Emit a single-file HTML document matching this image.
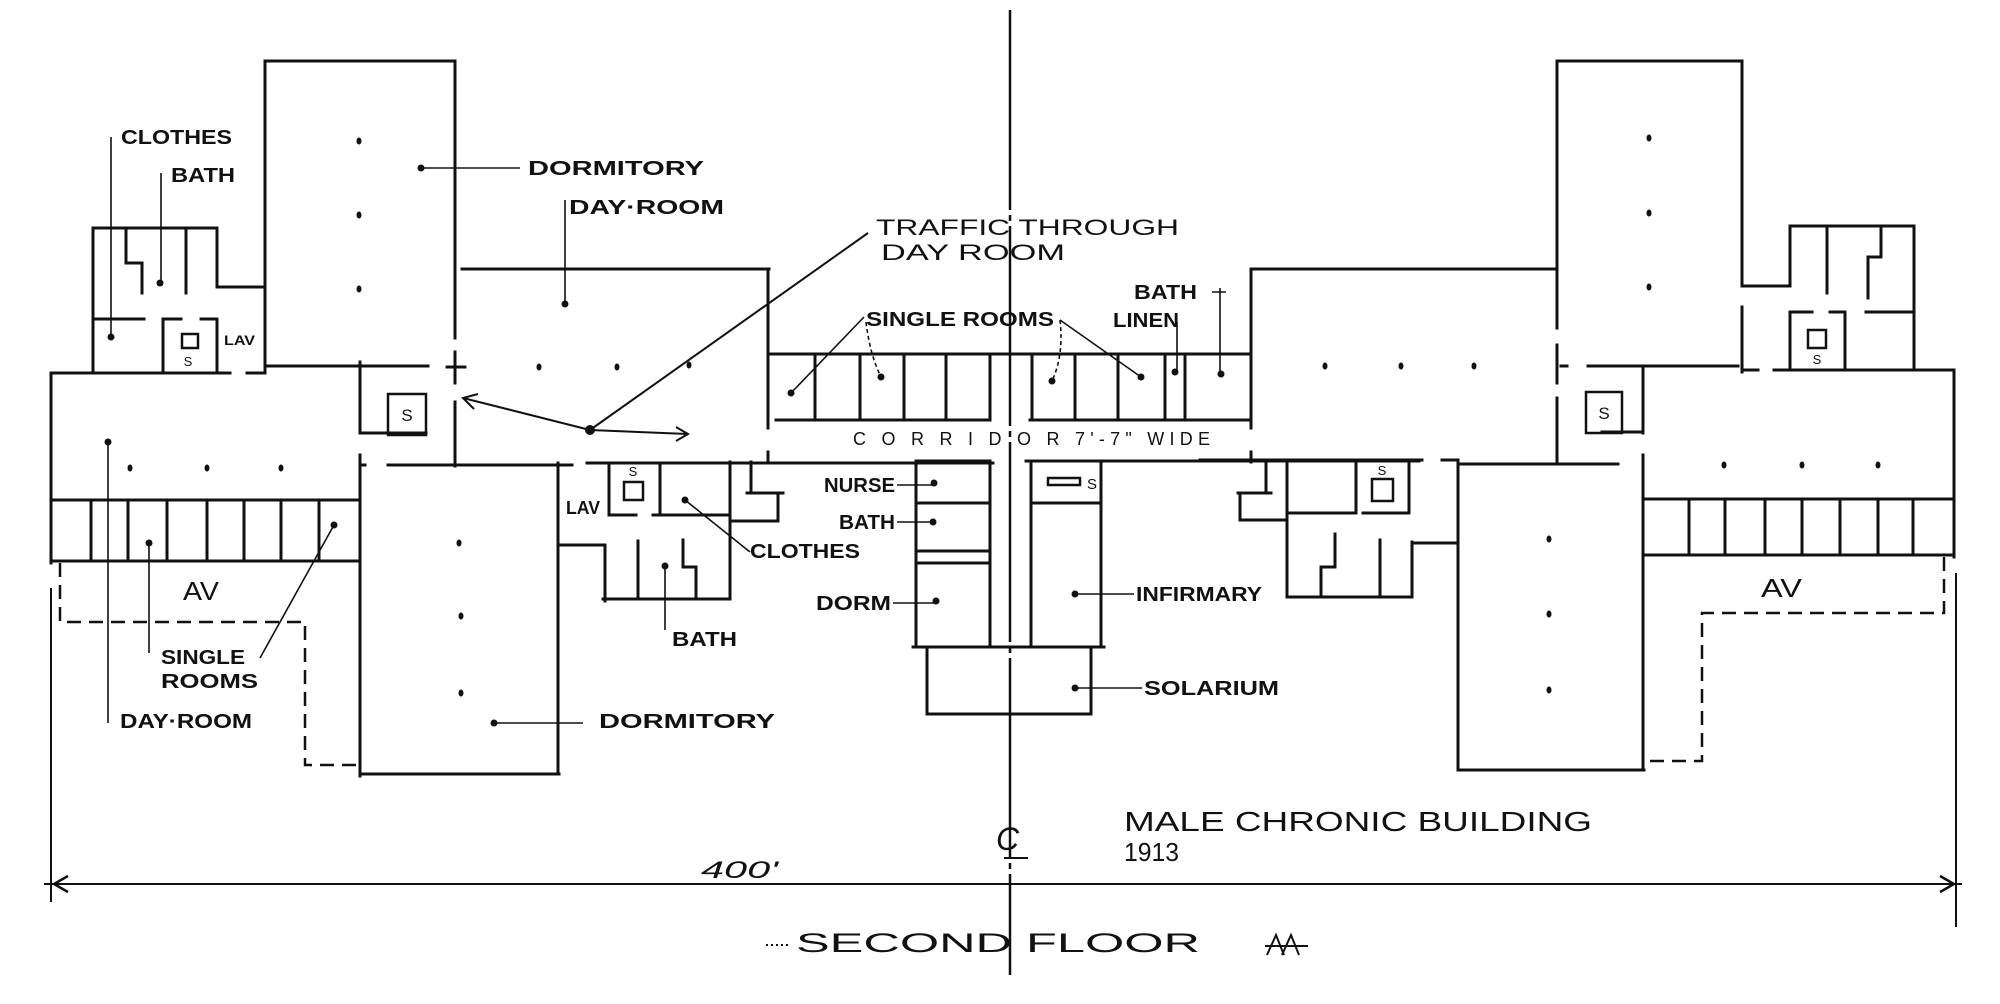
<!DOCTYPE html>
<html><head><meta charset="utf-8"><style>
html,body{margin:0;padding:0;background:#fff;}
svg{display:block;}
text{font-family:"Liberation Sans","DejaVu Sans",sans-serif;fill:#111;}
.b{font-weight:bold;}
</style></head><body>
<svg width="2000" height="1004" viewBox="0 0 2000 1004" xmlns="http://www.w3.org/2000/svg">
<rect width="2000" height="1004" fill="#fff"/>
<!-- WALLS -->
<g fill="none" stroke="#111" stroke-width="3" stroke-linecap="square">
<path d="M93 228 V373 M93 228 H217 V287 H265 M126 228 V263 H142 V293 M186 228 V293 M93 319 H144 M163 319 H181 M201 319 H217 M163 319 V372 M217 319 V372"/>
<path d="M265 61 H455 M265 61 V373 M455 61 V338 M455 352 V383 M455 402 V466 M265 366 H428 M447 367 H465 M51 373 H230 M247 373 H265"/>
<path d="M360 362 V433 H426"/>
<path d="M51 373 V563 M51 500 H357 M51 561 H357 M91 500 V561 M128 500 V561 M167 500 V561 M207 500 V561 M244 500 V561 M281 500 V561 M319 500 V561"/>
<path d="M360 455 V776 M360 465 H365 M388 465 H572 M558 463 V774 M360 774 H559"/>
<path d="M462 269 H769 M768 269 V428 M768 452 V462"/>
<path d="M587 463 H993 M1026 461 H1419 M1442 460 H1458"/>
<path d="M768 354 H1251 M776 420 H990 M1030 420 H1251 M815 354 V420 M860 354 V420 M904 354 V420 M946 354 V420 M990 354 V420 M1032 354 V420 M1075 354 V420 M1118 354 V420 M1165 354 V420 M1185 354 V420 M1251 269 V428 M1251 452 V462 M1251 269 H1557"/>
<path d="M559 545 H605 V601 M603 599 H730 M730 462 V597 M609 463 V515 H636 M660 463 V515 M653 515 H728 M638 541 V599 M683 540 V567 H696 V599 M751 462 V493 M747 493 H783 M778 493 V521 M730 521 H778"/>
<path d="M916 461 V647 M990 461 V647 M916 461 H990 M916 503 H990 M916 551 H990 M916 563 H990"/>
<path d="M1031 461 V647 M1101 461 V647 M1031 461 H1101 M1031 503 H1101"/>
<path d="M913 647 H1104 M927 647 V714 H1091 V647"/>
<path d="M1557 61 H1742 M1557 61 V328 M1557 345 V383 M1557 398 V464 M1742 61 V286 H1790 M1742 307 V372"/>
<path d="M1790 226 V286 M1790 226 H1914 V370 M1827 226 V293 M1881 228 V257 H1868 V298 M1790 312 H1812 M1830 312 H1845 M1866 312 H1914 M1790 312 V370 M1845 312 V370 M1742 370 H1758 M1774 370 H1954 M1954 370 V557"/>
<path d="M1588 366 H1738 M1561 366 H1567 M1643 368 V433 M1602 432 H1643"/>
<path d="M1643 455 V770 M1644 499 H1954 M1644 555 H1954 M1689 499 V555 M1725 499 V555 M1765 499 V555 M1802 499 V555 M1840 499 V555 M1878 499 V555 M1913 499 V555"/>
<path d="M1458 464 H1618 M1458 460 V770 M1458 770 H1644"/>
<path d="M1200 460 H1422 M1266 460 V493 M1238 493 H1271 M1240 493 V520 H1287 M1287 460 V597 H1412 V542 M1412 543 H1458 M1287 513 H1356 M1356 460 V513 M1363 513 H1409 M1409 460 V513 M1380 540 V597 M1335 534 V567 H1321 V597"/>
</g>
<g fill="none" stroke="#111" stroke-width="2.5">
<rect x="388" y="394" width="38" height="41"/>
<rect x="1586" y="392" width="36" height="41"/>
<rect x="182" y="334" width="16" height="14"/>
<rect x="624" y="482" width="19" height="18"/>
<rect x="1808" y="330" width="18" height="18"/>
<rect x="1372" y="479" width="21" height="22"/>
<rect x="1048" y="478" width="32" height="7"/>
</g>
<g fill="none" stroke="#111" stroke-width="2.5" stroke-dasharray="14 8">
<path d="M60 563 V622 H305 V765 H357"/>
<path d="M1944 557 V613 H1702 V761 H1646"/>
</g>
<path d="M1010 10 V975" stroke="#111" stroke-width="2.5" stroke-dasharray="200 5 6 5" fill="none"/>
<g fill="none" stroke="#111" stroke-width="2">
<path d="M44 884 H1962"/>
<path d="M51 588 V902 M1956 573 V927"/>
<path d="M68 876 L54 884 L68 892 M1940 876 L1954 884 L1940 892" stroke-width="2.5"/>
</g>
<g fill="none" stroke="#111" stroke-width="1.6">
<path d="M111 137 V337 M161 173 V283 M421 168 H520 M565 200 V304"/>
<path d="M590 430 L868 233" stroke-width="2"/>
<path d="M590 430 L463 398 M474 409 L463 398 L478 394 M590 430 L688 434 M676 427 L688 434 L676 441" stroke-width="2"/>
<path d="M864 317 L791 393 M1060 320 L1141 377 M1177 322 V372 M1220 288 V374 M1212 292 H1226"/>
<path d="M866 322 Q870 355 881 377 M1060 320 Q1064 355 1052 381" stroke-dasharray="4 3"/>
<path d="M897 485 H934 M897 522 H933 M893 603 H936 M1075 594 H1134 M1075 688 H1142"/>
<path d="M685 500 L750 552 M665 566 V630 M149 543 V653 M334 525 L260 658 M108 442 V723 M494 723 H583"/>
</g>
<g fill="#111">
<circle cx="111" cy="337" r="3.5"/><circle cx="160" cy="283" r="3.5"/><circle cx="421" cy="168" r="3.5"/><circle cx="565" cy="304" r="3.5"/>
<circle cx="590" cy="430" r="5"/><circle cx="108" cy="442" r="3.5"/><circle cx="149" cy="543" r="3.5"/><circle cx="334" cy="525" r="3.5"/>
<circle cx="494" cy="723" r="3.5"/><circle cx="665" cy="566" r="3.5"/><circle cx="685" cy="500" r="3.5"/>
<circle cx="791" cy="393" r="3.5"/><circle cx="881" cy="377" r="3.5"/><circle cx="1052" cy="381" r="3.5"/><circle cx="1141" cy="377" r="3.5"/><circle cx="1175" cy="372" r="3.5"/><circle cx="1221" cy="374" r="3.5"/>
<circle cx="934" cy="483" r="3.5"/><circle cx="933" cy="522" r="3.5"/><circle cx="936" cy="601" r="3.5"/><circle cx="1075" cy="594" r="3.5"/><circle cx="1075" cy="688" r="3.5"/>
<ellipse cx="359" cy="141" rx="2.5" ry="3.5"/><ellipse cx="359" cy="215" rx="2.5" ry="3.5"/><ellipse cx="359" cy="289" rx="2.5" ry="3.5"/>
<ellipse cx="539" cy="367" rx="2.5" ry="3.5"/><ellipse cx="617" cy="367" rx="2.5" ry="3.5"/><ellipse cx="689" cy="365" rx="2.5" ry="3.5"/>
<ellipse cx="130" cy="468" rx="2.5" ry="3.5"/><ellipse cx="207" cy="468" rx="2.5" ry="3.5"/><ellipse cx="281" cy="468" rx="2.5" ry="3.5"/>
<ellipse cx="459" cy="543" rx="2.5" ry="3.5"/><ellipse cx="461" cy="616" rx="2.5" ry="3.5"/><ellipse cx="461" cy="693" rx="2.5" ry="3.5"/>
<ellipse cx="1325" cy="366" rx="2.5" ry="3.5"/><ellipse cx="1401" cy="366" rx="2.5" ry="3.5"/><ellipse cx="1474" cy="366" rx="2.5" ry="3.5"/>
<ellipse cx="1649" cy="138" rx="2.5" ry="3.5"/><ellipse cx="1649" cy="213" rx="2.5" ry="3.5"/><ellipse cx="1649" cy="287" rx="2.5" ry="3.5"/>
<ellipse cx="1724" cy="465" rx="2.5" ry="3.5"/><ellipse cx="1802" cy="465" rx="2.5" ry="3.5"/><ellipse cx="1878" cy="465" rx="2.5" ry="3.5"/>
<ellipse cx="1549" cy="539" rx="2.5" ry="3.5"/><ellipse cx="1549" cy="614" rx="2.5" ry="3.5"/><ellipse cx="1549" cy="690" rx="2.5" ry="3.5"/>
</g>
<g font-size="17" text-anchor="middle">
<text x="407" y="421">S</text>
<text x="1604" y="419">S</text>
<text x="188" y="366" font-size="13">S</text>
<text x="633" y="476" font-size="13">S</text>
<text x="1817" y="364" font-size="13">S</text>
<text x="1382" y="475" font-size="13">S</text>
<text x="1092" y="489" font-size="15">S</text>
</g>
<g font-size="20" class="b">
<text x="121" y="144" textLength="111" lengthAdjust="spacingAndGlyphs">CLOTHES</text>
<text x="171" y="182" textLength="64" lengthAdjust="spacingAndGlyphs">BATH</text>
<text x="224" y="345" font-size="14" textLength="31" lengthAdjust="spacingAndGlyphs">LAV</text>
<text x="528" y="175" textLength="176" lengthAdjust="spacingAndGlyphs">DORMITORY</text>
<text x="569" y="214" textLength="155" lengthAdjust="spacingAndGlyphs">DAY·ROOM</text>
<text x="876" y="235" font-size="22" font-weight="normal" textLength="303" lengthAdjust="spacingAndGlyphs">TRAFFIC THROUGH</text>
<text x="881" y="260" font-size="22" font-weight="normal" textLength="184" lengthAdjust="spacingAndGlyphs">DAY ROOM</text>
<text x="866" y="326" textLength="188" lengthAdjust="spacingAndGlyphs">SINGLE ROOMS</text>
<text x="1113" y="327" textLength="66" lengthAdjust="spacingAndGlyphs">LINEN</text>
<text x="1134" y="299" textLength="63" lengthAdjust="spacingAndGlyphs">BATH</text>
<text x="853" y="445" font-size="18" font-weight="normal" textLength="357" lengthAdjust="spacing">C O R R I D O R   7'-7" WIDE</text>
<text x="566" y="514" font-size="18" textLength="34" lengthAdjust="spacingAndGlyphs">LAV</text>
<text x="750" y="558" textLength="110" lengthAdjust="spacingAndGlyphs">CLOTHES</text>
<text x="672" y="646" textLength="65" lengthAdjust="spacingAndGlyphs">BATH</text>
<text x="824" y="492" textLength="71" lengthAdjust="spacingAndGlyphs">NURSE</text>
<text x="839" y="529" textLength="56" lengthAdjust="spacingAndGlyphs">BATH</text>
<text x="816" y="610" textLength="75" lengthAdjust="spacingAndGlyphs">DORM</text>
<text x="1136" y="601" textLength="126" lengthAdjust="spacingAndGlyphs">INFIRMARY</text>
<text x="1144" y="695" textLength="135" lengthAdjust="spacingAndGlyphs">SOLARIUM</text>
<text x="161" y="664" textLength="84" lengthAdjust="spacingAndGlyphs">SINGLE</text>
<text x="161" y="688" textLength="97" lengthAdjust="spacingAndGlyphs">ROOMS</text>
<text x="120" y="728" textLength="132" lengthAdjust="spacingAndGlyphs">DAY·ROOM</text>
<text x="599" y="728" textLength="176" lengthAdjust="spacingAndGlyphs">DORMITORY</text>
</g>
<g font-size="26">
<text x="183" y="600" textLength="36" lengthAdjust="spacingAndGlyphs">AV</text>
<text x="1761" y="597" textLength="41" lengthAdjust="spacingAndGlyphs">AV</text>
<text x="701" y="878" font-size="24" font-style="italic" textLength="77" lengthAdjust="spacingAndGlyphs">400'</text>
<text x="1124" y="831" font-size="28" textLength="468" lengthAdjust="spacingAndGlyphs">MALE CHRONIC BUILDING</text>
<text x="1124" y="861" font-size="26" textLength="55" lengthAdjust="spacingAndGlyphs">1913</text>
<text x="796" y="952" font-size="27" textLength="404" lengthAdjust="spacingAndGlyphs">SECOND FLOOR</text>
<text x="996" y="850" font-size="32" font-style="italic">C</text>
</g>
<g fill="none" stroke="#111" stroke-width="2">
<path d="M1004 858 H1028"/>
<path d="M766 945 H790" stroke-dasharray="2 3"/>
<path d="M1267 955 L1276 935 L1284 955 M1282 955 L1291 935 L1299 955 M1265 946 H1308"/>
</g>
</svg>
</body></html>
